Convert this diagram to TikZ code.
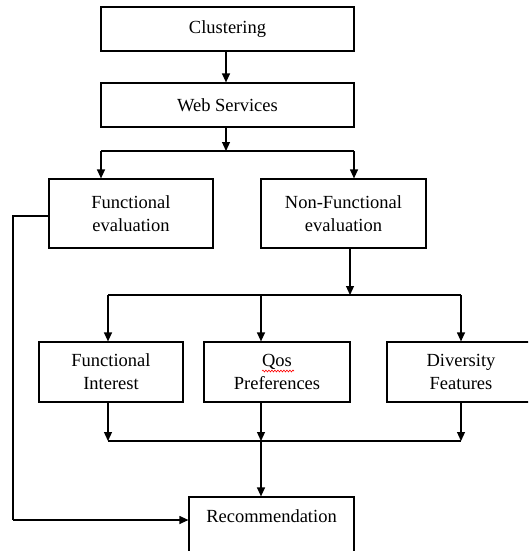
\documentclass[tikz,border=0pt]{standalone}
\usepackage{fontspec}
\setmainfont{Liberation Serif}
\usetikzlibrary{arrows.meta,decorations.pathmorphing}
\begin{document}
\begin{tikzpicture}[x=1pt,y=-1pt,
  box/.style={draw,line width=1.2pt,align=center,inner sep=0pt,
    font=\fontsize{18.5}{23}\selectfont},
  link/.style={line width=1.2pt},
  arr/.style={line width=1.2pt,-{Triangle[length=9pt,width=8pt]}}]
\useasboundingbox (0,0) rectangle (528,551);
\begin{scope}
\clip (0,0) rectangle (528,551);
\node[box,minimum width=253pt,minimum height=44pt] (clus) at (227.5,29) {Clustering};
\node[box,minimum width=253pt,minimum height=44pt] (ws) at (227.5,105) {Web Services};
\node[box,minimum width=164pt,minimum height=69pt] (fe) at (131,213.5) {Functional\\evaluation};
\node[box,minimum width=165pt,minimum height=69pt] (nfe) at (343.5,213.5) {Non-Functional\\evaluation};
\node[box,minimum width=144pt,minimum height=60pt] (fi) at (111,372) {Functional\\Interest};
\node[box,minimum width=146pt,minimum height=60pt] (qos) at (277,372) {Qos\\Preferences};
\node[box,minimum width=148pt,minimum height=60pt] (div) at (461,372) {Diversity\\Features};
\node[box,minimum width=165pt,minimum height=68pt] (rec) at (271.5,531) {Recommendation\\\strut};
\draw[red,line width=0.6pt,decorate,decoration={snake,amplitude=0.9pt,segment length=3pt}] (262,371) -- (294,371);

\coordinate (s0) at (226,0);
\coordinate (s1) at (226,151);
\coordinate (s1l) at (101,151);
\coordinate (s1r) at (354,151);
\coordinate (s2) at (350,295);
\coordinate (s2l) at (108,295);
\coordinate (s2m) at (261,295);
\coordinate (s2r) at (461,295);
\coordinate (s3l) at (108,441);
\coordinate (s3m) at (261,441);
\coordinate (s3r) at (461,441);
\coordinate (lt) at (13,216);
\coordinate (lb) at (13,520);

\draw[arr] (s0 |- clus.south) -- (s0 |- ws.north);
\draw[arr] (s1 |- ws.south) -- (s1);
\draw[link] (s1l) -- (s1r);
\draw[arr] (s1l) -- (s1l |- fe.north);
\draw[arr] (s1r) -- (s1r |- nfe.north);

\draw[arr] (s2 |- nfe.south) -- (s2);
\draw[link] (s2l) -- (s2r);
\draw[arr] (s2l) -- (s2l |- fi.north);
\draw[arr] (s2m) -- (s2m |- qos.north);
\draw[arr] (s2r) -- (s2r |- div.north);

\draw[arr] (s3l |- fi.south) -- (s3l);
\draw[arr] (s3m |- qos.south) -- (s3m);
\draw[arr] (s3r |- div.south) -- (s3r);
\draw[link] (s3l) -- (s3r);
\draw[arr] (s3m) -- (s3m |- rec.north);

\draw[link] (fe.west |- lt) -- (lt) -- (lb);
\draw[arr] (lb) -- (lb -| rec.west);
\end{scope}
\end{tikzpicture}
\end{document}
